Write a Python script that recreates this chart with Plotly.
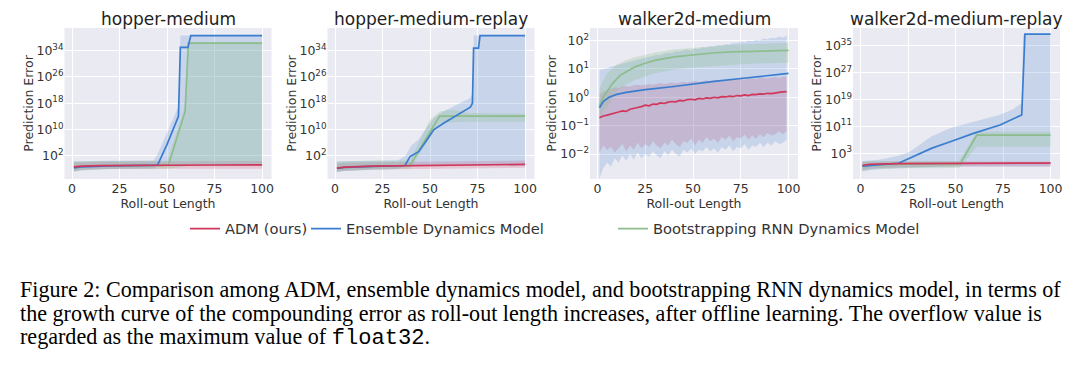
import numpy as np
import plotly.graph_objects as go

# ---------------- data (values are log10 of prediction error) ----------------
TITLES = ["hopper-medium", "hopper-medium-replay", "walker2d-medium", "walker2d-medium-replay"]
SERIES = ["ADM (ours)", "Ensemble Dynamics Model", "Bootstrapping RNN Dynamics Model"]
X_TICKS = [0, 25, 50, 75, 100]

# hopper-medium
HM_ADM_X = [1, 5, 15, 30, 50, 75, 100]
HM_ADM_MEAN = [-1.3, -1.1, -0.95, -0.85, -0.8, -0.75, -0.7]
HM_ADM_LO = [-2.6, -2.2, -2.0, -1.9, -1.9, -1.9, -1.9]
HM_ADM_HI = [0.0, 0.1, 0.2, 0.3, 0.35, 0.4, 0.45]
HM_ENS_X = [1, 5, 20, 45, 50, 56, 57, 61, 62.5, 100]
HM_ENS_MEAN = [-1.6, -1.3, -1.0, -0.8, 5.5, 14.0, 34.9, 34.9, 38.5, 38.5]
HM_ENS_BX = [1, 5, 20, 43, 45, 50, 56, 57, 62.5, 100]
HM_ENS_LO = [-2.8, -2.4, -2.0, -1.8, -1.0, -1.0, -1.0, -1.0, -1.0, -1.0]
HM_ENS_HI = [0.3, 0.4, 0.5, 0.6, 2.5, 9.0, 17.0, 38.5, 38.5, 38.5]
HM_BOOT_X = [1, 5, 20, 50.7, 59.5, 61.2, 100]
HM_BOOT_MEAN = [-1.4, -1.2, -1.0, -0.8, 15.5, 36.2, 36.2]
HM_BOOT_BX = [1, 5, 20, 50, 59.5, 61.2, 100]
HM_BOOT_LO = [-2.7, -2.3, -2.0, -1.9, -1.2, -1.0, -1.0]
HM_BOOT_HI = [0.4, 0.4, 0.4, 0.5, 17.0, 36.5, 36.5]

# hopper-medium-replay
HMR_ADM_X = [1, 5, 20, 50, 75, 100]
HMR_ADM_MEAN = [-1.7, -1.4, -1.1, -0.9, -0.7, -0.55]
HMR_ADM_LO = [-2.8, -2.5, -2.1, -1.9, -1.7, -1.6]
HMR_ADM_HI = [-0.3, -0.1, 0.1, 0.3, 0.5, 0.6]
HMR_ENS_X = [1, 5, 20, 36.8, 39.5, 44, 48.4, 51.9, 57.1, 64.2, 71.2, 72.3, 72.9, 75.5, 76.3, 100]
HMR_ENS_MEAN = [-1.8, -1.5, -1.2, -0.9, 1.8, 3.3, 6.9, 9.9, 11.9, 14.5, 16.8, 18.0, 34.7, 34.7, 38.5, 38.5]
HMR_ENS_BX = [1, 5, 20, 33, 37, 40, 44, 48, 52, 57, 64, 71, 72.3, 73, 100]
HMR_ENS_LO = [-2.9, -2.6, -2.2, -2.0, -1.2, -1.0, -1.0, -1.0, -1.0, -1.0, -1.0, -1.0, -1.0, -1.0, -1.0]
HMR_ENS_HI = [0.3, 0.4, 0.5, 0.6, 2.0, 5.0, 7.0, 10.5, 13.5, 15.5, 17.5, 19.5, 21.0, 38.5, 38.5]
HMR_BOOT_X = [1, 5, 20, 39.5, 55, 100]
HMR_BOOT_MEAN = [-1.8, -1.5, -1.2, -0.9, 14.1, 14.1]
HMR_BOOT_BX = [1, 5, 20, 39.5, 50, 55, 62, 70, 100]
HMR_BOOT_LO = [-2.8, -2.5, -2.1, -1.9, 7.5, 12.0, 12.2, 12.4, 12.4]
HMR_BOOT_HI = [0.3, 0.4, 0.5, 0.6, 13.0, 15.5, 16.0, 15.0, 14.8]

# walker2d-medium
WM_NX = [1, 3, 5, 7, 9, 11, 13, 15, 17, 19, 21, 23, 25, 27, 29, 31, 33, 35, 37, 39, 41, 43, 45, 47, 49,
         51, 53, 55, 57, 59, 61, 63, 65, 67, 69, 71, 73, 75, 77, 79, 81, 83, 85, 87, 89, 91, 93, 95, 97, 99]
WM_ADM_MEAN = [-0.72, -0.66, -0.63, -0.60, -0.55, -0.52, -0.48, -0.50, -0.42, -0.40, -0.36, -0.33, -0.28,
               -0.30, -0.24, -0.25, -0.20, -0.22, -0.17, -0.15, -0.16, -0.11, -0.13, -0.08, -0.07, -0.09,
               -0.04, -0.06, -0.02, -0.04, 0.0, -0.02, 0.02, 0.01, 0.04, 0.02, 0.06, 0.05, 0.08, 0.06, 0.10,
               0.09, 0.12, 0.11, 0.14, 0.13, 0.16, 0.17, 0.19, 0.20]
WM_ADM_LO = [-1.95, -1.7, -1.85, -1.75, -1.95, -1.8, -1.65, -1.9, -1.7, -1.85, -1.6, -1.8, -1.65, -1.75,
             -1.55, -1.7, -1.8, -1.6, -1.7, -1.5, -1.65, -1.75, -1.55, -1.6, -1.45, -1.7, -1.5, -1.6, -1.4,
             -1.55, -1.45, -1.6, -1.4, -1.5, -1.35, -1.55, -1.4, -1.45, -1.3, -1.5, -1.35, -1.45, -1.3, -1.4,
             -1.25, -1.35, -1.3, -1.2, -1.3, -1.2]
WM_ADM_HI = [0.1, 0.2, 0.25, 0.3, 0.35, 0.33, 0.38, 0.4, 0.37, 0.42, 0.44, 0.41, 0.45, 0.47, 0.44, 0.48, 0.5,
             0.47, 0.5, 0.52, 0.49, 0.53, 0.55, 0.52, 0.55, 0.57, 0.54, 0.57, 0.59, 0.56, 0.6, 0.61, 0.58,
             0.62, 0.63, 0.6, 0.64, 0.65, 0.62, 0.66, 0.67, 0.64, 0.68, 0.69, 0.66, 0.7, 0.71, 0.68, 0.72, 0.73]
WM_ENS_X = [1, 3, 6, 10, 15, 25, 40, 50, 60, 75, 90, 100]
WM_ENS_MEAN = [-0.37, -0.15, 0.0, 0.1, 0.17, 0.27, 0.38, 0.47, 0.55, 0.66, 0.76, 0.84]
WM_ENS_LO = [-2.85, -2.5, -2.3, -2.45, -2.15, -2.3, -2.05, -2.25, -2.0, -2.2, -1.95, -2.15, -2.0, -2.1,
             -1.9, -2.05, -2.15, -1.9, -2.05, -1.85, -2.0, -2.1, -1.85, -1.95, -1.8, -2.0, -1.85, -1.9,
             -1.75, -1.9, -1.8, -1.95, -1.75, -1.85, -1.7, -1.9, -1.75, -1.8, -1.65, -1.85, -1.7, -1.75,
             -1.6, -1.75, -1.6, -1.7, -1.55, -1.65, -1.6, -1.5]
WM_ENS_HI = [0.95, 1.0, 1.02, 1.08, 1.1, 1.15, 1.18, 1.22, 1.25, 1.3, 1.32, 1.36, 1.4, 1.42, 1.45, 1.5, 1.48,
             1.55, 1.57, 1.55, 1.62, 1.6, 1.66, 1.68, 1.65, 1.72, 1.7, 1.76, 1.74, 1.8, 1.78, 1.84, 1.82,
             1.88, 1.86, 1.92, 1.9, 1.96, 1.93, 2.0, 1.97, 2.03, 2.0, 2.07, 2.04, 2.1, 2.08, 2.14, 2.1, 2.18]
WM_BOOT_X = [1, 3, 5, 8, 12, 15, 20, 25, 30, 40, 50, 60, 70, 80, 90, 100]
WM_BOOT_MEAN = [-0.3, 0.0, 0.2, 0.5, 0.78, 0.9, 1.08, 1.2, 1.3, 1.42, 1.5, 1.56, 1.6, 1.62, 1.64, 1.65]
WM_BOOT_BX = [1, 3, 5, 10, 15, 20, 30, 40, 50, 60, 70, 80, 90, 100]
WM_BOOT_LO = [-0.8, -0.5, -0.35, 0.2, 0.45, 0.62, 0.85, 0.98, 1.05, 1.1, 1.15, 1.18, 1.2, 1.22]
WM_BOOT_HI = [0.3, 0.6, 0.85, 1.15, 1.3, 1.42, 1.58, 1.68, 1.75, 1.8, 1.84, 1.87, 1.9, 1.92]

# walker2d-medium-replay
WMR_ADM_X = [1, 5, 20, 50, 100]
WMR_ADM_MEAN = [-0.6, -0.3, -0.1, 0.0, 0.05]
WMR_ADM_LO = [-2.0, -1.6, -1.2, -1.0, -1.0]
WMR_ADM_HI = [0.4, 0.45, 0.5, 0.5, 0.5]
WMR_ENS_X = [1, 5, 10, 20, 28, 37.6, 47.2, 59.4, 73.4, 84.8, 86.5, 100]
WMR_ENS_MEAN = [-0.9, -0.6, -0.4, 0.0, 2.0, 4.5, 6.4, 8.9, 11.4, 14.4, 38.5, 38.5]
WMR_ENS_BX = [1, 5, 10, 20, 26, 37, 47, 60, 73, 80, 84.8, 85.6, 100]
WMR_ENS_LO = [-2.5, -2.0, -1.7, -1.5, -1.2, -1.0, -1.0, -1.0, -1.0, -1.0, -1.0, -1.0, -1.0]
WMR_ENS_HI = [0.7, 0.8, 1.0, 2.2, 3.4, 7.9, 10.4, 12.4, 14.4, 16.0, 17.9, 38.5, 38.5]
WMR_BOOT_X = [1, 5, 20, 52.4, 61.2, 100]
WMR_BOOT_MEAN = [-0.9, -0.6, -0.3, -0.2, 8.4, 8.4]
WMR_BOOT_BX = [1, 5, 20, 52, 61, 100]
WMR_BOOT_LO = [-2.3, -1.9, -1.5, -1.4, 4.9, 4.9]
WMR_BOOT_HI = [0.6, 0.7, 0.7, 0.7, 9.4, 9.4]

# y ticks (log10 exponents) per panel
Y_TICK_EXP = [[2, 10, 18, 26, 34], [2, 10, 18, 26, 34], [-2, -1, 0, 1, 2], [3, 11, 19, 27, 35]]
Y_RANGE = [[-5.0, 40.8], [-5.0, 40.8], [-2.88, 2.44], [-4.7, 40.3]]

CAPTION = [
    "Figure 2: Comparison among ADM, ensemble dynamics model, and bootstrapping RNN dynamics model, in terms of",
    "the growth curve of the compounding error as roll-out length increases, after offline learning. The overflow value is",
    "regarded as the maximum value of <span style=\"font-family:'Liberation Mono'\">float32</span>.",
]

# ---------------- styling ----------------
W, H = 1080, 365
TOP, BOTTOM = 28, 186
PH = H - TOP - BOTTOM
DOM_PX = [(64.5, 271.5), (327.5, 534.5), (590, 798), (853, 1060)]
LINE_COLORS = ["#d1375c", "#3a7dcf", "#8dbd8d"]
FILL_COLORS = ["rgba(209,55,92,0.20)", "rgba(58,125,207,0.20)", "rgba(141,189,141,0.28)"]
TXT = "#333333"
SANS = "DejaVu Sans"

panels = [
    [(HM_ADM_X, HM_ADM_MEAN, HM_ADM_X, HM_ADM_LO, HM_ADM_HI),
     (HM_ENS_X, HM_ENS_MEAN, HM_ENS_BX, HM_ENS_LO, HM_ENS_HI),
     (HM_BOOT_X, HM_BOOT_MEAN, HM_BOOT_BX, HM_BOOT_LO, HM_BOOT_HI)],
    [(HMR_ADM_X, HMR_ADM_MEAN, HMR_ADM_X, HMR_ADM_LO, HMR_ADM_HI),
     (HMR_ENS_X, HMR_ENS_MEAN, HMR_ENS_BX, HMR_ENS_LO, HMR_ENS_HI),
     (HMR_BOOT_X, HMR_BOOT_MEAN, HMR_BOOT_BX, HMR_BOOT_LO, HMR_BOOT_HI)],
    [(WM_NX, WM_ADM_MEAN, WM_NX, WM_ADM_LO, WM_ADM_HI),
     (WM_ENS_X, WM_ENS_MEAN, WM_NX, WM_ENS_LO, WM_ENS_HI),
     (WM_BOOT_X, WM_BOOT_MEAN, WM_BOOT_BX, WM_BOOT_LO, WM_BOOT_HI)],
    [(WMR_ADM_X, WMR_ADM_MEAN, WMR_ADM_X, WMR_ADM_LO, WMR_ADM_HI),
     (WMR_ENS_X, WMR_ENS_MEAN, WMR_ENS_BX, WMR_ENS_LO, WMR_ENS_HI),
     (WMR_BOOT_X, WMR_BOOT_MEAN, WMR_BOOT_BX, WMR_BOOT_LO, WMR_BOOT_HI)],
]

fig = go.Figure()
legend_ids = ["legend", "legend2", "legend3"]

for p, series in enumerate(panels):
    xa = "x" if p == 0 else f"x{p+1}"
    ya = "y" if p == 0 else f"y{p+1}"
    for s, (mx, mv, bx, lo, hi) in enumerate(series):
        fig.add_trace(go.Scatter(x=bx, y=10 ** np.array(lo, float), mode="lines", line=dict(width=0),
                                 showlegend=False, hoverinfo="skip", xaxis=xa, yaxis=ya))
        fig.add_trace(go.Scatter(x=bx, y=10 ** np.array(hi, float), mode="lines", line=dict(width=0),
                                 fill="tonexty", fillcolor=FILL_COLORS[s],
                                 showlegend=False, hoverinfo="skip", xaxis=xa, yaxis=ya))
    for s in [2, 1, 0]:
        mx, mv, bx, lo, hi = series[s]
        fig.add_trace(go.Scatter(x=mx, y=10 ** np.array(mv, float), mode="lines", name=SERIES[s],
                                 line=dict(color=LINE_COLORS[s], width=1.7),
                                 showlegend=(p == 0), legend=legend_ids[s], xaxis=xa, yaxis=ya))

layout = dict(
    width=W, height=H, margin=dict(l=0, r=0, t=TOP, b=BOTTOM, autoexpand=False),
    paper_bgcolor="white", plot_bgcolor="#eaeaf2",
    font=dict(family=SANS, color=TXT, size=12),
)
annotations = []
for p in range(4):
    x0, x1 = DOM_PX[p]
    sx = "" if p == 0 else str(p + 1)
    exps = Y_TICK_EXP[p]
    ticktext = [f"10<sup>{e}</sup>" if e >= 0 else f"10<sup>\u2212{-e}</sup>" for e in exps]
    layout["xaxis" + sx] = dict(
        domain=[x0 / W, x1 / W], anchor="y" + sx, range=[-3.95, 104.95], automargin=False,
        tickvals=X_TICKS, ticks="", showgrid=True, gridcolor="white", gridwidth=1,
        zeroline=False, showline=False, tickfont=dict(size=12.5, color=TXT),
        title=dict(text="Roll-out Length", font=dict(size=12.5, color=TXT), standoff=1),
    )
    layout["yaxis" + sx] = dict(
        domain=[0, 1], anchor="x" + sx, type="log", range=Y_RANGE[p], automargin=False,
        tickvals=[10.0 ** e for e in exps], ticktext=ticktext, ticks="",
        showgrid=True, gridcolor="white", gridwidth=1, zeroline=False, showline=False,
        tickfont=dict(size=12.5, color=TXT),
        title=dict(text="Prediction Error", font=dict(size=12.5, color=TXT), standoff=0),
    )
    annotations.append(dict(text=TITLES[p], x=(x0 + x1) / 2 / W, y=1, xref="paper", yref="paper",
                            xanchor="center", yanchor="bottom", yshift=-3, showarrow=False,
                            font=dict(size=17, color="#222222", family=SANS)))

for i, line in enumerate(CAPTION):
    ypx = 289 + 24 * i
    annotations.append(dict(text=line, x=18 / W, y=(TOP + PH - ypx) / PH, xref="paper", yref="paper",
                            xanchor="left", yanchor="middle", showarrow=False, align="left",
                            font=dict(size=22.1, color="black", family="Liberation Serif")))
layout["annotations"] = annotations

leg_y = (TOP + PH - 229) / PH
for lid, xpx in zip(legend_ids, [185, 306, 613]):
    layout[lid] = dict(x=xpx / W, y=leg_y, xanchor="left", yanchor="middle", orientation="h",
                       bgcolor="rgba(0,0,0,0)", font=dict(size=14.7, color=TXT, family=SANS),
                       borderwidth=0)

fig.update_layout(**layout)
fig.write_html("out.html", config={"displayModeBar": False},
               post_script="document.body.style.margin='0px';")
